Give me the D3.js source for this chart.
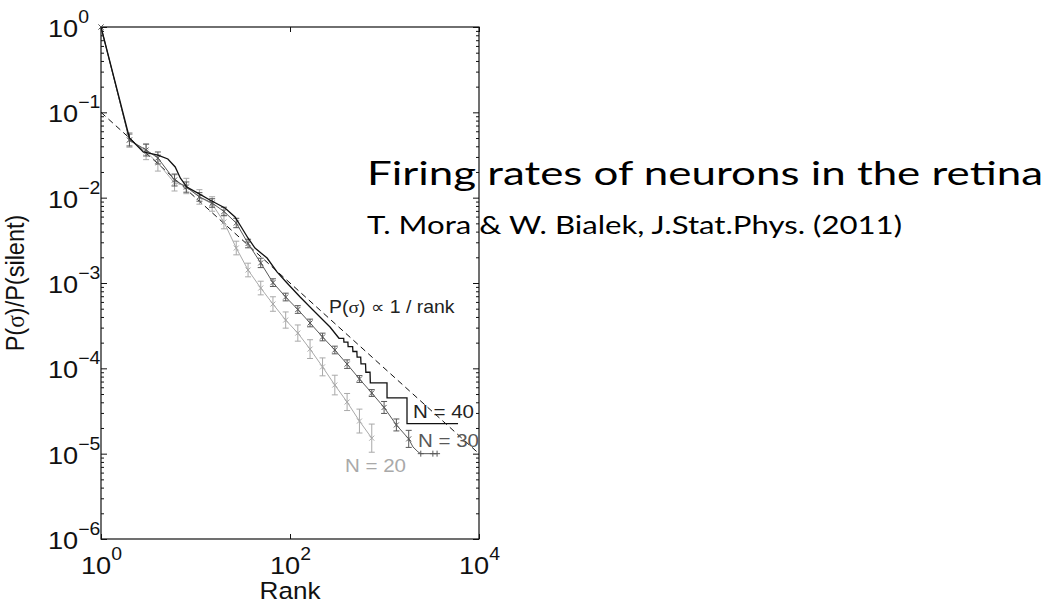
<!DOCTYPE html>
<html><head><meta charset="utf-8">
<script src="https://cdn.jsdelivr.net/npm/d3@7"></script>
<style>
html,body{margin:0;padding:0;background:#fff;}
svg{display:block;}
</style></head><body>
<svg id="chart" width="1055" height="603"></svg>
<script>
// ---- axis ticks ----
const xTickValues = [1, 100, 10000];
const xTickExponents = ["0", "2", "4"];
const yTickValues = [1, 1e-1, 1e-2, 1e-3, 1e-4, 1e-5, 1e-6];
const yTickExponents = ["0", "\u22121", "\u22122", "\u22123", "\u22124", "\u22125", "\u22126"];

// ---- reference law P ∝ 1/rank ----
const refRank = [1, 10000];
const refP = [0.1, 1e-5];

// ---- N = 20 neurons (mean ± error, error in decades) ----
const n20Rank = [1, 2, 3, 4, 6, 8, 11, 15, 20, 27, 36, 49, 66, 90, 121, 163, 221, 298, 402, 543, 733];
const n20P = [1, 0.0474, 0.0343, 0.0255, 0.0149, 0.0137, 0.0102, 0.00843, 0.00519, 0.00257, 0.00142,
  0.000873, 0.000567, 0.000368, 0.000259, 0.000168, 0.000104, 6.37e-5, 4.03e-5, 2.41e-5, 1.52e-5];
const n20Err = [0, 0.085, 0.09, 0.095, 0.095, 0.09, 0.085, 0.085, 0.08, 0.08, 0.08,
  0.08, 0.085, 0.095, 0.095, 0.11, 0.105, 0.115, 0.1, 0.14, 0.165];

// ---- N = 30 neurons ----
const n30Rank = [1, 2, 3, 4, 6, 8, 11, 15, 20, 27, 36, 49, 66, 90, 121, 163, 221, 298, 402, 543, 733, 990, 1336, 1804];
const n30P = [1, 0.0474, 0.0362, 0.0292, 0.0161, 0.0133, 0.0102, 0.00866, 0.00689, 0.00505, 0.0029,
  0.00172, 0.00101, 0.000685, 0.000489, 0.00034, 0.000233, 0.000164, 0.000112, 7.5e-5, 5.14e-5,
  3.48e-5, 2.17e-5, 1.49e-5];
const n30Err = [0, 0.07, 0.07, 0.07, 0.07, 0.06, 0.05, 0.05, 0.05, 0.055, 0.05,
  0.055, 0.045, 0.045, 0.045, 0.045, 0.045, 0.045, 0.05, 0.04, 0.04, 0.07, 0.07, 0.1];
const n30TailRank = [2000, 2260, 2420, 3250, 3600];
const n30TailP = [1.2e-5, 1.05e-5, 1.0e-5, 1.0e-5, 1.0e-5];

// ---- N = 40 neurons ----
const n40Rank = [1, 2, 2.8, 4, 5.1, 6.1, 6.9, 8.1, 10.6, 14.2, 20.5, 26.2, 29.6, 35.9, 42.6, 57.2, 72.8,
  93, 128, 175, 265, 330, 370, 372, 410, 412, 460, 463, 510, 513, 560, 564, 630, 635, 703, 708,
  1063, 1064, 1730, 1731, 6000];
const n40P = [1, 0.05, 0.0343, 0.0316, 0.0284, 0.0229, 0.017, 0.0133, 0.0113, 0.0094, 0.00756, 0.00593,
  0.00478, 0.00337, 0.00257, 0.00196, 0.00135, 0.0010, 0.000685, 0.000482, 0.000305, 2.25e-4, 2.25e-4,
  2.025e-4, 2.025e-4, 1.8e-4, 1.8e-4, 1.575e-4, 1.575e-4, 1.35e-4, 1.35e-4, 1.125e-4, 1.125e-4,
  9.0e-5, 9.0e-5, 6.75e-5, 6.75e-5, 4.5e-5, 4.5e-5, 2.25e-5, 2.25e-5];

// ---- layout ----
const svg = d3.select("#chart");
const plotL = 101, plotR = 479, plotT = 27, plotB = 539;
const x = d3.scaleLog().domain([1, 1e4]).range([plotL, plotR]);
const y = d3.scaleLog().domain([1e-6, 1]).range([plotB, plotT]);
const STRETCH = 1.11;
const axisFont = "'Liberation Sans', Arial, Helvetica, sans-serif";

const c20 = "#a9a9a9", c30 = "#585858", c40 = "#111";

// minor ticks on the log y axis
const yMinor = [];
for (let d = -6; d < 0; d++) for (let k = 2; k <= 9; k++) yMinor.push(k * Math.pow(10, d));

function styleAxis(g) {
  g.select(".domain").remove();
  g.selectAll(".tick line").attr("stroke", "#111").attr("stroke-width", 1);
}

// left / right major and minor ticks (pointing inward)
svg.append("g").attr("transform", `translate(${plotL},0)`)
  .call(d3.axisLeft(y).tickValues(yMinor).tickSize(-3).tickFormat(() => ""))
  .call(styleAxis);
svg.append("g").attr("transform", `translate(${plotR},0)`)
  .call(d3.axisRight(y).tickValues(yMinor).tickSize(-3).tickFormat(() => ""))
  .call(styleAxis);
svg.append("g").attr("transform", `translate(${plotR},0)`)
  .call(d3.axisRight(y).tickValues(yTickValues).tickSize(-6).tickFormat(() => ""))
  .call(styleAxis);

const yAxisG = svg.append("g").attr("transform", `translate(${plotL},0)`)
  .call(d3.axisLeft(y).tickValues(yTickValues).tickSize(-6).tickFormat(() => ""))
  .call(styleAxis);

yAxisG.selectAll(".tick text").each(function (d, i) {
  const t = d3.select(this);
  t.text(null).attr("x", null).attr("dy", null)
    .attr("y", 9.5)
    .attr("transform", `translate(-53,0) scale(${STRETCH},1)`)
    .attr("text-anchor", "start")
    .attr("fill", "#111")
    .style("font-family", axisFont).style("font-size", "24.5px");
  t.append("tspan").text("10");
  t.append("tspan").attr("dy", -14).style("font-size", "17.5px").text(yTickExponents[i]);
});

// bottom / top ticks
svg.append("g").attr("transform", `translate(0,${plotT})`)
  .call(d3.axisTop(x).tickValues(xTickValues).tickSize(-5).tickFormat(() => ""))
  .call(styleAxis);
const xAxisG = svg.append("g").attr("transform", `translate(0,${plotB})`)
  .call(d3.axisBottom(x).tickValues(xTickValues).tickSize(-5).tickFormat(() => ""))
  .call(styleAxis);

xAxisG.selectAll(".tick text").each(function (d, i) {
  const t = d3.select(this);
  t.text(null).attr("y", null).attr("dy", null)
    .attr("transform", `translate(0,35) scale(${STRETCH},1)`)
    .attr("text-anchor", "middle")
    .attr("fill", "#111")
    .style("font-family", axisFont).style("font-size", "24.5px");
  t.append("tspan").text("10");
  t.append("tspan").attr("dy", -14).style("font-size", "17.5px").text(xTickExponents[i]);
});

// frame
svg.append("rect")
  .attr("x", plotL).attr("y", plotT)
  .attr("width", plotR - plotL).attr("height", plotB - plotT)
  .attr("fill", "none").attr("stroke", "#111").attr("stroke-width", 1.2);

// axis titles
svg.append("text")
  .attr("transform", `translate(290,599) scale(${STRETCH},1)`)
  .attr("text-anchor", "middle").attr("fill", "#111")
  .style("font-family", axisFont).style("font-size", "23.5px")
  .text("Rank");

const yLab = svg.append("text")
  .attr("transform", `translate(24,283) scale(${STRETCH},1) rotate(-90)`)
  .attr("text-anchor", "middle").attr("fill", "#111")
  .style("font-family", axisFont).style("font-size", "23.5px");
yLab.append("tspan").text("P(");
yLab.append("tspan").style("font-family", "'Liberation Serif', serif").text("\u03C3");
yLab.append("tspan").text(")/P(silent)");

// ---- marks ----
const plot = svg.append("g");
const line = d3.line().x(d => x(d[0])).y(d => y(d[1]));
const zip = (a, b) => a.map((v, i) => [v, b[i]]);

// reference 1/rank
plot.append("path")
  .attr("d", line(zip(refRank, refP)))
  .attr("fill", "none").attr("stroke", "#111").attr("stroke-width", 1)
  .attr("stroke-dasharray", "6,4");

function errorSeries(ranks, ps, errs, color) {
  const g = plot.append("g").attr("stroke", color).attr("fill", "none").attr("stroke-width", 1);
  const pts = ranks.map((r, i) => ({ r, p: ps[i], e: errs[i] }));
  const bars = g.selectAll("g.bar").data(pts.filter(d => d.e > 0)).join("g").attr("class", "bar");
  bars.append("line")
    .attr("x1", d => x(d.r)).attr("x2", d => x(d.r))
    .attr("y1", d => y(d.p * Math.pow(10, -d.e))).attr("y2", d => y(d.p * Math.pow(10, d.e)));
  bars.append("line")
    .attr("x1", d => x(d.r) - 3).attr("x2", d => x(d.r) + 3)
    .attr("y1", d => y(d.p * Math.pow(10, -d.e))).attr("y2", d => y(d.p * Math.pow(10, -d.e)));
  bars.append("line")
    .attr("x1", d => x(d.r) - 3).attr("x2", d => x(d.r) + 3)
    .attr("y1", d => y(d.p * Math.pow(10, d.e))).attr("y2", d => y(d.p * Math.pow(10, d.e)));
  g.selectAll("path.mk").data(pts).join("path").attr("class", "mk")
    .attr("transform", d => `translate(${x(d.r)},${y(d.p)})`)
    .attr("d", "M-2.5,-2.5L2.5,2.5M-2.5,2.5L2.5,-2.5");
  return g;
}

// N = 20
plot.append("path").attr("d", line(zip(n20Rank, n20P)))
  .attr("fill", "none").attr("stroke", c20).attr("stroke-width", 1);
errorSeries(n20Rank, n20P, n20Err, c20);

// N = 30
plot.append("path").attr("d", line(zip(n30Rank, n30P).concat(zip(n30TailRank, n30TailP))))
  .attr("fill", "none").attr("stroke", c30).attr("stroke-width", 1);
errorSeries(n30Rank, n30P, n30Err, c30);
plot.append("g").attr("stroke", c30).attr("stroke-width", 1)
  .selectAll("path").data(zip(n30TailRank, n30TailP).slice(2)).join("path")
  .attr("transform", d => `translate(${x(d[0])},${y(d[1])})`)
  .attr("d", "M-3,0H3M0,-3V3");

// N = 40
plot.append("path").attr("d", line(zip(n40Rank, n40P)))
  .attr("fill", "none").attr("stroke", c40).attr("stroke-width", 1.3);

// ---- annotations ----
function label(txt, xx, yy, color, size) {
  return svg.append("text")
    .attr("transform", `translate(${xx},${yy}) scale(${STRETCH},1)`)
    .attr("fill", color)
    .style("font-family", axisFont).style("font-size", size + "px")
    .text(txt);
}
const lawLab = svg.append("text")
  .attr("transform", `translate(329,313) scale(${STRETCH},1)`)
  .attr("fill", "#222")
  .style("font-family", axisFont).style("font-size", "17.5px");
lawLab.append("tspan").text("P(");
lawLab.append("tspan").style("font-family", "'Liberation Serif', serif").text("\u03C3");
lawLab.append("tspan").text(") \u221D 1 / rank");

label("N = 40", 413, 418, "#222", 18.5);
label("N = 30", 418, 447, c30, 18.5);
label("N = 20", 345, 472, c20, 18.5);

// title block
const titleFont = "Lato, 'Open Sans', sans-serif";
svg.append("text")
  .attr("x", 367).attr("y", 185)
  .attr("textLength", 676).attr("lengthAdjust", "spacingAndGlyphs")
  .attr("fill", "#000")
  .style("font-family", titleFont).style("font-size", "32.5px")
  .text("Firing rates of neurons in the retina");
svg.append("text")
  .attr("x", 367).attr("y", 234)
  .attr("textLength", 535).attr("lengthAdjust", "spacingAndGlyphs")
  .attr("fill", "#000")
  .style("font-family", titleFont).style("font-size", "25.5px")
  .text("T. Mora & W. Bialek, J.Stat.Phys. (2011)");
</script>
</body></html>
